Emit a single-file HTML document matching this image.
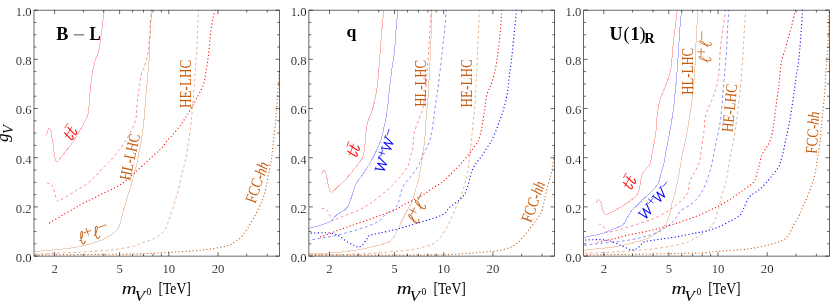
<!DOCTYPE html>
<html><head><meta charset="utf-8"><title>plot</title>
<style>html,body{margin:0;padding:0;background:#fff;}svg{display:block;font-family:"Liberation Serif",serif;}.ax{stroke:#000;fill:none;}.tl{font-size:13.5px;fill:#000;stroke:#fff;stroke-width:0.18px;}</style></head><body>
<svg width="830" height="303" viewBox="0 0 830 303">
<rect width="830" height="303" fill="#fff"/>
<g opacity="0.999">
<defs>
<clipPath id="c0"><rect x="34.0" y="10.2" width="245.6" height="246.0"/></clipPath>
<clipPath id="c1"><rect x="308.9" y="10.2" width="245.7" height="246.0"/></clipPath>
<clipPath id="c2"><rect x="583.7" y="10.2" width="245.8" height="246.0"/></clipPath>
</defs>
<path d="M104.0,9.0C103.7,12.5 102.8,23.1 101.9,29.9C101.0,36.7 99.9,44.9 98.8,50.0C97.7,55.1 96.2,57.1 95.2,60.6C94.2,64.1 93.2,67.9 92.6,71.2C91.9,74.5 91.6,77.7 91.3,80.5C91.0,83.3 90.9,85.0 90.6,88.0C90.3,91.0 89.8,94.6 89.5,98.3C89.2,102.0 89.1,107.0 88.7,110.0C88.3,113.0 88.2,114.1 87.3,116.6C86.3,119.1 84.2,122.6 83.0,124.8C81.8,127.0 81.7,127.3 80.2,129.9C78.7,132.5 75.4,137.9 73.8,140.5C72.2,143.1 71.7,143.9 70.5,145.5C69.3,147.1 68.2,148.0 66.5,150.2C64.8,152.4 61.5,156.8 60.0,158.6C58.5,160.4 58.1,160.8 57.5,161.3C56.9,161.8 56.7,162.2 56.3,161.8C55.9,161.4 55.5,161.0 55.1,159.0C54.7,157.0 54.1,152.3 53.8,150.0C53.5,147.7 53.6,147.0 53.3,145.0C53.0,143.0 52.3,140.1 51.9,137.8C51.5,135.5 51.4,132.8 51.0,131.2C50.6,129.6 50.1,128.4 49.6,128.2C49.1,128.0 48.4,128.7 47.9,129.9C47.4,131.1 46.8,134.3 46.6,135.2" fill="none" stroke="#ff0000" stroke-width="1" stroke-opacity="0.30" shape-rendering="crispEdges" clip-path="url(#c0)"/>
<path d="M151.4,9.0C151.2,12.5 150.5,23.1 150.0,29.9C149.5,36.7 149.0,44.9 148.4,50.0C147.8,55.1 147.1,57.5 146.3,60.6C145.5,63.7 144.5,66.2 143.6,68.6C142.7,71.0 141.6,72.8 141.0,75.2C140.4,77.6 140.2,80.8 139.9,83.1C139.6,85.4 139.5,86.5 139.1,89.0C138.7,91.5 138.1,94.5 137.7,98.3C137.3,102.0 136.7,108.5 136.5,111.5C136.3,114.5 136.6,114.1 136.3,116.0C136.0,117.9 135.6,120.5 134.7,123.0C133.8,125.5 132.5,128.2 131.1,130.9C129.7,133.7 128.2,136.7 126.5,139.5C124.8,142.3 122.6,145.5 121.2,147.5C119.8,149.5 120.1,149.1 118.3,151.3C116.5,153.5 113.3,157.5 110.4,160.6C107.5,163.7 103.4,167.5 101.1,169.9C98.8,172.3 98.6,172.9 96.3,175.2C94.0,177.5 90.3,181.1 87.0,183.6C83.7,186.1 79.9,188.2 76.4,190.4C72.9,192.6 68.7,195.2 65.8,196.9C62.9,198.6 60.6,200.1 59.2,200.8C57.9,201.5 58.2,201.6 57.7,201.2C57.2,200.8 56.7,199.6 56.3,198.5C55.9,197.4 55.7,196.6 55.2,194.9C54.8,193.2 54.3,190.0 53.6,188.3C52.9,186.6 52.2,185.3 51.2,184.5C50.2,183.7 47.9,183.4 47.3,183.2" fill="none" stroke="#ff0000" stroke-width="0.46" stroke-dasharray="2.8 2.6" clip-path="url(#c0)"/>
<path d="M151.8,9.0C151.6,12.5 150.8,23.1 150.4,29.9C150.0,36.7 149.8,44.4 149.6,50.0C149.3,55.6 149.2,58.9 148.9,63.3C148.6,67.7 147.9,72.5 147.6,76.5C147.2,80.5 147.1,83.4 146.8,87.0C146.5,90.6 146.0,94.0 145.6,98.3C145.2,102.6 145.0,108.0 144.6,113.0C144.2,118.0 143.7,123.6 143.1,128.3C142.5,133.1 141.7,137.7 141.1,141.5C140.5,145.3 140.0,147.4 139.3,151.0C138.6,154.6 137.9,159.1 136.9,163.3C135.9,167.5 134.6,171.8 133.5,176.0C132.4,180.2 131.3,184.1 130.1,188.3C128.9,192.6 127.4,197.1 126.1,201.5C124.8,205.9 123.1,211.6 122.3,214.5C121.5,217.4 122.0,217.2 121.5,219.0C121.0,220.8 120.4,223.6 119.5,225.6C118.6,227.6 117.6,229.3 116.2,230.9C114.8,232.5 113.2,233.4 110.9,234.9C108.6,236.4 106.2,238.2 102.3,239.8C98.4,241.4 92.6,243.3 87.8,244.6C83.0,245.9 78.2,246.8 73.4,247.6C68.6,248.4 63.7,249.0 58.9,249.5C54.1,250.0 48.8,250.2 44.5,250.6C40.2,251.0 34.9,251.8 33.0,252.0" fill="none" stroke="#c85c0e" stroke-width="1" stroke-opacity="0.30" shape-rendering="crispEdges" clip-path="url(#c0)"/>
<path d="M198.6,9.0C198.4,12.5 197.9,23.4 197.6,29.9C197.3,36.4 197.3,42.2 197.0,48.0C196.7,53.8 196.2,59.3 195.8,64.9C195.4,70.5 194.9,75.7 194.5,81.5C194.1,87.3 193.7,93.9 193.2,99.9C192.7,105.9 192.1,112.3 191.6,117.5C191.1,122.7 190.7,126.5 190.1,130.9C189.5,135.3 188.7,140.3 188.1,144.2C187.5,148.1 187.4,150.7 186.7,154.3C186.0,157.9 184.9,162.2 184.0,166.0C183.1,169.8 182.2,172.9 181.2,177.0C180.2,181.1 179.4,186.1 178.2,190.6C177.0,195.1 175.5,199.8 174.2,203.9C172.9,208.0 171.4,212.1 170.4,215.0C169.4,217.9 169.3,219.2 168.4,221.6C167.5,224.0 166.6,227.3 165.1,229.6C163.6,231.9 161.7,233.7 159.2,235.5C156.7,237.3 153.0,238.9 149.9,240.2C146.8,241.5 143.7,242.4 140.6,243.5C137.5,244.6 135.8,245.8 131.3,246.8C126.8,247.8 117.5,249.1 113.5,249.7C109.5,250.3 113.0,250.0 107.1,250.4C101.2,250.8 87.8,251.8 78.2,252.3C68.6,252.8 56.8,253.2 49.3,253.5C41.8,253.8 35.7,254.1 33.0,254.2" fill="none" stroke="#c85c0e" stroke-width="0.46" stroke-dasharray="2.8 2.6" clip-path="url(#c0)"/>
<path d="M215.5,10.0C215.1,11.2 213.7,14.7 213.1,17.3C212.5,19.9 212.1,22.9 211.7,25.9C211.2,28.9 210.8,32.0 210.4,35.2C210.0,38.4 209.8,41.6 209.5,45.0C209.2,48.4 208.8,52.3 208.4,55.6C208.0,58.9 207.6,61.8 207.1,64.9C206.6,68.0 206.0,71.4 205.5,74.2C205.0,77.0 204.9,79.4 204.2,82.0C203.5,84.6 202.4,87.1 201.1,89.9C199.8,92.7 198.0,95.7 196.5,98.6C195.0,101.5 193.5,104.5 191.9,107.2C190.3,110.0 188.5,113.0 187.2,115.1C185.9,117.1 185.4,117.9 184.3,119.5C183.2,121.1 182.5,122.7 180.8,124.9C179.1,127.1 176.4,130.4 174.2,132.9C172.0,135.4 169.8,137.6 167.6,140.2C165.4,142.8 163.4,146.1 161.0,148.7C158.6,151.3 156.1,153.1 153.0,156.0C149.9,158.9 145.6,162.8 142.2,165.9C138.8,169.0 136.5,171.3 132.8,174.5C129.1,177.7 124.4,182.1 120.1,184.9C115.8,187.8 111.3,189.4 106.9,191.6C102.5,193.8 98.0,196.0 93.6,198.2C89.2,200.4 85.2,202.2 80.4,204.8C75.6,207.5 70.0,210.8 64.5,214.1C59.0,217.3 50.1,222.6 47.2,224.3" fill="none" stroke="#ff0000" stroke-width="1.1" stroke-dasharray="1.1 2.4" clip-path="url(#c0)"/>
<path d="M279.6,71.0C279.4,72.8 279.0,78.0 278.6,82.0C278.2,86.0 277.9,90.3 277.5,95.0C277.1,99.7 276.8,105.5 276.5,110.0C276.2,114.5 275.9,117.3 275.5,122.0C275.1,126.7 274.3,133.0 273.8,138.0C273.3,143.0 272.7,148.4 272.3,152.0C271.9,155.6 272.1,155.9 271.5,159.3C270.9,162.7 269.7,168.1 268.8,172.5C267.9,176.9 267.2,181.8 266.3,186.0C265.4,190.2 264.4,194.4 263.2,197.9C262.0,201.4 260.7,204.1 259.3,207.2C257.9,210.3 256.1,213.6 254.6,216.4C253.0,219.2 251.2,222.2 250.0,224.3C248.8,226.4 248.3,227.5 247.4,228.9C246.5,230.3 245.8,231.1 244.6,232.7C243.4,234.3 241.7,237.0 240.0,238.5C238.3,240.0 236.7,240.6 234.7,241.8C232.7,243.0 232.3,244.3 228.1,245.5C223.9,246.7 215.9,248.3 209.5,249.2C203.1,250.1 196.4,250.6 189.6,251.1C182.8,251.6 175.0,252.0 168.4,252.4C161.8,252.8 156.3,253.1 149.9,253.4C143.5,253.7 149.3,253.8 130.0,254.1C110.7,254.3 50.0,254.8 34.0,254.9" fill="none" stroke="#c85c0e" stroke-width="1.1" stroke-dasharray="1.1 2.4" clip-path="url(#c0)"/>
<path d="M383.8,9.0C383.5,12.5 382.5,23.1 381.9,29.9C381.3,36.7 380.8,43.3 380.3,50.0C379.8,56.7 379.4,63.3 378.8,69.9C378.2,76.5 377.7,83.7 376.8,89.8C375.9,95.9 374.4,102.3 373.3,106.5C372.2,110.7 371.5,112.2 370.5,115.0C369.5,117.8 368.1,119.7 367.3,123.3C366.5,126.9 365.9,132.4 365.5,136.5C365.1,140.6 365.1,144.8 364.7,148.0C364.3,151.2 363.7,153.9 363.1,155.9C362.5,157.9 362.4,157.9 361.1,159.9C359.8,161.9 357.7,164.7 355.2,167.8C352.7,170.9 349.4,175.2 346.3,178.6C343.2,182.0 338.9,185.8 336.4,188.1C333.9,190.4 332.6,191.9 331.4,192.2C330.2,192.5 330.1,191.9 329.4,189.8C328.7,187.8 327.9,182.8 327.3,179.9C326.7,177.0 326.2,174.0 325.6,172.4C325.1,170.8 324.7,170.0 324.0,170.3C323.3,170.6 321.9,173.5 321.5,174.1" fill="none" stroke="#ff0000" stroke-width="1" stroke-opacity="0.30" shape-rendering="crispEdges" clip-path="url(#c1)"/>
<path d="M398.0,9.0C397.7,12.5 396.6,23.1 396.0,29.9C395.4,36.7 395.3,43.3 394.6,50.0C393.9,56.7 392.7,63.3 391.8,69.9C390.9,76.5 389.9,84.8 389.3,89.8C388.8,94.8 388.9,96.5 388.5,99.9C388.1,103.3 387.7,106.5 387.2,110.0C386.7,113.5 386.3,116.6 385.5,120.6C384.7,124.6 383.2,130.7 382.5,133.9C381.8,137.1 382.0,137.2 381.0,140.0C380.0,142.8 378.0,147.1 376.4,150.6C374.8,154.1 373.1,157.7 371.1,161.2C369.1,164.7 366.2,169.2 364.5,171.8C362.8,174.4 362.5,174.7 361.1,176.6C359.7,178.5 357.4,181.0 356.2,183.2C355.0,185.4 354.5,187.3 353.7,189.8C352.9,192.3 352.2,195.2 351.2,198.0C350.2,200.8 349.0,204.3 347.9,206.3C346.8,208.3 346.5,208.6 344.6,210.0C342.7,211.4 338.6,213.2 336.4,215.0C334.2,216.8 333.9,219.0 331.4,220.7C328.9,222.3 325.4,223.6 321.5,224.9C317.6,226.2 310.2,227.9 308.0,228.5" fill="none" stroke="#0000ff" stroke-width="1" stroke-opacity="0.30" shape-rendering="crispEdges" clip-path="url(#c1)"/>
<path d="M431.4,9.0C431.2,12.5 430.4,23.1 430.0,29.9C429.6,36.7 429.1,43.3 428.7,50.0C428.2,56.7 427.8,63.3 427.3,69.9C426.8,76.5 426.2,84.5 425.6,89.8C425.1,95.1 424.6,98.6 424.0,102.0C423.4,105.4 423.2,106.9 422.3,110.0C421.4,113.1 419.8,116.8 418.5,120.6C417.2,124.3 415.1,129.3 414.3,132.5C413.5,135.7 413.8,137.2 413.5,140.0C413.2,142.8 413.2,146.1 412.6,149.0C412.1,151.9 411.0,154.4 410.2,157.2C409.4,160.0 409.5,162.9 408.0,166.0C406.5,169.1 402.9,173.2 401.2,175.5C399.5,177.8 399.9,177.4 397.6,179.8C395.3,182.2 391.9,185.9 387.5,189.8C383.1,193.7 375.7,199.7 371.0,203.0C366.3,206.3 363.6,207.6 359.5,209.6C355.4,211.6 350.2,213.4 346.3,215.0C342.4,216.6 338.8,218.2 336.4,219.1C334.0,220.0 333.3,221.2 332.2,220.5C331.1,219.8 330.8,216.8 329.8,215.0C328.9,213.2 327.9,210.7 326.5,209.6C325.1,208.5 322.3,208.4 321.5,208.2" fill="none" stroke="#ff0000" stroke-width="0.46" stroke-dasharray="2.8 2.6" clip-path="url(#c1)"/>
<path d="M431.9,9.0C431.8,12.5 431.5,23.1 431.3,29.9C431.1,36.7 430.8,43.3 430.5,50.0C430.2,56.7 429.9,64.1 429.6,69.9C429.3,75.7 429.0,80.0 428.7,85.0C428.4,90.0 428.2,95.7 427.9,99.9C427.6,104.1 427.3,105.8 426.9,110.0C426.5,114.2 425.9,120.0 425.5,125.0C425.1,130.0 425.2,135.3 424.8,140.0C424.4,144.7 423.4,149.0 422.8,153.3C422.2,157.6 421.7,161.8 421.0,166.0C420.3,170.2 419.7,174.5 418.8,178.5C417.9,182.5 416.7,186.0 415.6,189.8C414.5,193.6 413.7,197.9 412.3,201.3C410.9,204.7 408.7,207.4 407.3,210.0C405.9,212.6 405.4,213.8 404.0,216.6C402.6,219.3 400.6,223.5 399.1,226.5C397.6,229.5 396.4,232.5 395.0,234.8C393.6,237.1 392.6,239.0 390.8,240.5C389.0,242.0 387.5,242.7 384.2,243.8C380.9,244.9 375.9,246.0 371.0,247.1C366.1,248.2 361.4,249.4 354.5,250.4C347.6,251.4 337.6,252.4 329.8,252.9C322.1,253.4 311.6,253.6 308.0,253.7" fill="none" stroke="#c85c0e" stroke-width="1" stroke-opacity="0.30" shape-rendering="crispEdges" clip-path="url(#c1)"/>
<path d="M446.3,9.0C446.0,12.5 445.3,23.1 444.6,29.9C443.9,36.7 443.0,43.3 442.3,50.0C441.6,56.7 440.9,64.1 440.2,69.9C439.5,75.7 438.9,80.7 438.4,85.0C437.8,89.3 437.5,91.9 436.9,95.9C436.3,99.9 435.4,105.2 434.9,109.2C434.3,113.2 434.2,116.1 433.6,120.0C433.1,123.9 432.3,128.9 431.6,132.5C430.9,136.1 430.5,138.6 429.5,141.5C428.5,144.4 426.8,147.2 425.5,150.0C424.2,152.8 422.8,155.8 421.5,158.6C420.2,161.4 419.3,164.0 417.5,167.0C415.7,170.0 412.9,173.6 410.6,176.6C408.4,179.6 405.6,182.1 404.0,184.8C402.4,187.6 401.6,190.1 400.7,193.1C399.8,196.1 399.4,200.2 398.3,203.0C397.2,205.8 395.9,207.9 394.1,209.6C392.3,211.3 390.0,211.2 387.5,213.0C385.0,214.8 382.1,218.7 379.3,220.7C376.6,222.7 375.1,223.2 371.0,224.9C366.9,226.6 360.0,228.9 354.5,230.6C349.0,232.2 343.5,233.6 338.0,234.8C332.5,236.1 326.5,237.2 321.5,238.1C316.5,239.0 310.2,240.1 308.0,240.5" fill="none" stroke="#0000ff" stroke-width="0.46" stroke-dasharray="2.8 2.6" clip-path="url(#c1)"/>
<path d="M479.5,9.0C479.3,12.5 478.8,23.1 478.5,29.9C478.2,36.7 478.0,43.3 477.7,50.0C477.4,56.7 477.1,64.1 476.8,69.9C476.5,75.7 476.3,80.0 476.0,85.0C475.7,90.0 475.5,95.2 475.2,99.9C474.9,104.6 474.6,109.1 474.3,113.0C474.0,116.9 473.5,119.4 473.1,123.3C472.7,127.2 472.3,132.1 471.8,136.5C471.3,140.9 470.9,145.1 470.3,150.0C469.8,154.9 469.1,161.3 468.5,166.0C467.9,170.7 467.5,173.9 466.4,178.4C465.3,182.9 463.7,188.3 462.0,193.0C460.3,197.7 457.6,203.5 456.4,206.3C455.2,209.1 456.2,206.9 454.8,210.0C453.4,213.1 450.7,220.2 448.2,224.9C445.7,229.6 442.6,234.8 439.9,238.1C437.1,241.4 433.5,243.5 431.7,244.7C429.9,245.9 432.0,244.7 428.8,245.5C425.6,246.3 419.2,248.5 412.3,249.6C405.4,250.7 397.1,251.3 387.5,252.1C377.9,252.9 367.8,253.7 354.5,254.2C341.2,254.7 315.8,254.9 308.0,255.0" fill="none" stroke="#c85c0e" stroke-width="0.46" stroke-dasharray="2.8 2.6" clip-path="url(#c1)"/>
<path d="M501.8,10.0C501.6,13.3 501.0,23.2 500.4,29.9C499.8,36.6 499.0,44.4 498.3,50.0C497.6,55.6 497.0,59.3 496.4,63.3C495.8,67.3 495.2,70.6 494.4,73.9C493.6,77.2 492.5,80.8 491.7,83.1C490.9,85.4 490.6,86.2 489.8,88.0C489.0,89.8 487.8,91.5 487.1,93.9C486.4,96.3 485.9,99.7 485.5,102.5C485.1,105.3 485.0,108.2 484.6,111.0C484.2,113.8 483.6,116.1 483.1,119.3C482.6,122.5 482.1,126.7 481.4,129.9C480.7,133.1 479.8,136.4 479.1,138.5C478.4,140.6 478.1,141.0 477.2,142.5C476.3,144.0 474.9,145.5 473.7,147.3C472.4,149.1 471.4,151.1 469.7,153.3C468.0,155.5 465.8,158.1 463.7,160.5C461.6,162.9 459.4,165.4 457.1,167.8C454.8,170.2 451.8,173.2 449.8,175.1C447.8,177.0 446.5,178.3 445.2,179.5C443.9,180.7 444.2,180.7 442.0,182.3C439.8,183.9 435.3,186.6 431.7,188.9C428.1,191.2 425.2,193.8 420.6,196.4C416.0,199.0 408.3,202.3 404.0,204.6C399.7,206.9 399.1,208.1 395.0,210.0C390.9,211.9 384.7,213.9 379.3,215.8C373.9,217.7 368.3,219.7 362.8,221.6C357.3,223.5 351.3,225.5 346.3,227.3C341.3,229.1 337.4,230.7 333.0,232.3C328.6,234.0 322.1,236.4 319.9,237.2" fill="none" stroke="#ff0000" stroke-width="1.1" stroke-dasharray="1.1 2.4" clip-path="url(#c1)"/>
<path d="M516.5,10.0C516.2,13.3 515.2,23.2 514.5,29.9C513.8,36.6 513.1,44.4 512.5,50.0C511.9,55.6 511.5,59.3 511.0,63.3C510.5,67.3 510.0,70.4 509.6,73.9C509.2,77.4 508.7,81.8 508.4,84.5C508.1,87.2 508.0,87.7 507.7,90.0C507.4,92.3 506.9,95.8 506.3,98.6C505.7,101.3 505.0,104.1 504.3,106.5C503.6,108.9 503.2,110.8 502.4,113.1C501.6,115.4 500.6,117.8 499.6,120.6C498.6,123.4 497.5,126.8 496.3,129.9C495.1,133.0 493.4,137.1 492.4,139.2C491.4,141.3 491.6,140.7 490.5,142.5C489.4,144.3 487.3,147.3 485.6,149.9C483.9,152.5 482.0,155.6 480.3,157.9C478.6,160.2 477.0,161.9 475.7,163.9C474.4,165.9 473.3,167.8 472.4,169.8C471.5,171.8 471.0,173.8 470.4,175.8C469.8,177.8 469.6,180.0 469.0,182.0C468.4,184.0 467.7,186.0 467.0,188.0C466.3,190.0 465.9,192.0 464.7,193.9C463.5,195.8 462.2,197.5 459.7,199.7C457.2,201.9 452.8,204.5 449.8,207.1C446.9,209.7 447.4,212.3 442.0,215.0C436.6,217.7 424.6,220.9 417.2,223.2C409.8,225.5 403.7,227.3 397.4,229.0C391.1,230.7 384.0,232.0 379.3,233.1C374.6,234.2 371.5,234.6 369.4,235.6C367.3,236.6 368.0,237.4 366.9,238.9C365.8,240.4 364.2,243.3 362.8,244.7C361.4,246.1 360.0,247.0 358.6,247.1C357.2,247.2 356.3,246.3 354.5,245.5C352.7,244.7 350.4,243.7 347.9,242.2C345.4,240.7 341.9,237.8 339.7,236.4C337.5,235.0 336.9,234.5 334.7,233.9C332.5,233.3 330.8,232.9 326.5,232.8C322.2,232.7 312.0,233.1 309.1,233.1" fill="none" stroke="#0000ff" stroke-width="1.1" stroke-dasharray="1.1 2.4" clip-path="url(#c1)"/>
<path d="M554.6,148.0C554.4,150.0 553.9,156.3 553.5,160.0C553.1,163.7 552.5,167.3 552.0,170.0C551.5,172.7 551.3,173.0 550.5,176.0C549.7,179.0 548.2,184.2 547.2,188.1C546.2,192.0 545.3,196.0 544.5,199.7C543.7,203.3 543.0,207.4 542.2,210.0C541.4,212.6 541.2,212.8 539.8,215.0C538.4,217.2 536.1,220.4 534.0,223.2C531.9,225.9 529.6,228.8 527.4,231.5C525.2,234.2 523.0,237.4 520.8,239.7C518.6,242.0 516.7,244.0 514.2,245.5C511.7,247.0 509.5,247.8 505.9,248.8C502.3,249.8 499.8,250.5 492.7,251.3C485.6,252.1 473.4,253.1 463.0,253.7C452.6,254.3 455.6,254.7 430.0,254.9C404.4,255.1 329.2,254.9 309.1,254.9" fill="none" stroke="#c85c0e" stroke-width="1.1" stroke-dasharray="1.1 2.4" clip-path="url(#c1)"/>
<path d="M677.4,9.0C677.0,12.5 675.7,23.1 674.9,29.9C674.1,36.7 673.2,43.8 672.6,50.0C672.0,56.2 671.9,62.6 671.2,67.2C670.5,71.8 669.8,74.0 668.6,77.8C667.4,81.6 665.4,86.0 663.9,89.8C662.4,93.6 661.0,96.6 659.9,100.6C658.8,104.6 657.9,109.5 657.3,113.9C656.7,118.3 657.0,122.5 656.5,127.0C656.0,131.5 655.4,136.4 654.6,140.9C653.8,145.4 652.7,150.2 651.9,154.2C651.1,158.2 651.1,161.9 649.7,164.8C648.3,167.7 645.0,169.4 643.6,171.6C642.2,173.8 641.8,175.4 641.1,178.2C640.4,180.9 640.1,185.3 639.4,188.1C638.7,190.8 638.6,192.5 637.0,194.7C635.4,196.9 632.7,199.0 629.5,201.3C626.3,203.6 621.4,206.6 618.0,208.7C614.6,210.8 611.0,212.7 608.9,213.7C606.8,214.7 606.6,214.9 605.6,214.5C604.6,214.1 603.8,212.8 603.1,211.2C602.4,209.5 602.0,206.4 601.5,204.6C601.0,202.8 600.3,201.3 599.8,200.5C599.2,199.7 598.8,199.7 598.2,200.0C597.6,200.3 596.5,202.2 596.2,202.6" fill="none" stroke="#ff0000" stroke-width="1" stroke-opacity="0.30" shape-rendering="crispEdges" clip-path="url(#c2)"/>
<path d="M681.7,9.0C681.4,12.5 680.3,23.1 679.8,29.9C679.3,36.7 678.9,43.3 678.5,50.0C678.1,56.7 677.7,63.3 677.2,69.9C676.7,76.5 676.0,83.8 675.4,89.8C674.8,95.8 674.5,101.0 673.9,105.9C673.3,110.8 672.4,115.7 671.9,119.2C671.4,122.7 671.3,123.2 670.6,127.0C669.9,130.8 668.7,137.4 667.8,142.2C666.9,146.9 665.9,151.7 665.2,155.5C664.5,159.3 664.4,161.8 663.7,164.8C663.0,167.8 661.8,170.2 660.9,173.3C660.0,176.4 660.0,180.0 658.4,183.2C656.8,186.3 653.3,189.7 651.0,192.2C648.7,194.7 646.9,195.7 644.4,198.0C641.9,200.3 638.3,204.1 636.1,206.3C633.9,208.5 632.7,209.2 631.2,211.2C629.7,213.2 628.4,216.0 627.0,218.3C625.6,220.6 625.2,223.1 622.9,224.9C620.6,226.7 615.8,227.8 613.0,229.0C610.2,230.2 609.1,231.3 606.4,232.3C603.6,233.3 600.4,233.9 596.5,234.8C592.6,235.7 585.2,237.2 583.0,237.7" fill="none" stroke="#0000ff" stroke-width="1" stroke-opacity="0.30" shape-rendering="crispEdges" clip-path="url(#c2)"/>
<path d="M698.1,9.0C697.9,12.5 697.1,23.1 696.7,29.9C696.3,36.7 696.0,43.3 695.7,50.0C695.4,56.7 695.2,63.3 694.8,69.9C694.4,76.5 693.7,83.8 693.1,89.8C692.5,95.8 692.1,101.0 691.4,105.9C690.7,110.8 689.7,115.7 689.1,119.2C688.5,122.7 688.7,123.2 688.0,127.0C687.3,130.8 686.1,137.4 685.1,142.2C684.1,146.9 682.9,151.7 682.1,155.5C681.3,159.3 681.1,161.0 680.5,164.8C679.9,168.6 679.1,173.5 678.2,178.2C677.3,182.9 676.0,188.7 674.9,193.1C673.8,197.5 672.3,201.8 671.6,204.6C670.9,207.4 671.3,207.7 670.8,210.0C670.2,212.3 669.3,215.7 668.3,218.3C667.3,220.9 666.8,223.4 665.0,225.7C663.2,228.0 660.8,230.1 657.6,232.3C654.4,234.5 650.7,237.0 646.0,238.9C641.3,240.8 635.0,242.4 629.5,243.8C624.0,245.2 618.5,246.3 613.0,247.1C607.5,247.9 601.5,248.2 596.5,248.8C591.5,249.4 585.2,250.1 583.0,250.4" fill="none" stroke="#c85c0e" stroke-width="1" stroke-opacity="0.30" shape-rendering="crispEdges" clip-path="url(#c2)"/>
<path d="M725.5,9.0C725.1,12.5 723.8,23.1 722.9,29.9C722.0,36.7 720.9,43.3 720.3,50.0C719.7,56.7 719.7,64.6 719.2,69.9C718.8,75.2 718.2,78.5 717.6,81.8C717.0,85.1 716.6,86.7 715.6,89.8C714.6,92.9 713.0,97.0 711.6,100.6C710.2,104.2 708.1,108.1 707.0,111.2C705.9,114.3 705.2,116.6 704.8,119.2C704.4,121.8 704.7,123.8 704.4,127.0C704.1,130.2 703.6,134.2 703.0,138.3C702.4,142.4 701.7,147.3 701.0,151.5C700.3,155.7 700.2,159.8 699.0,163.4C697.8,167.0 695.4,170.3 693.9,173.3C692.4,176.3 690.8,178.5 689.8,181.5C688.8,184.5 689.1,188.7 688.1,191.4C687.1,194.2 686.1,195.7 684.0,198.0C681.9,200.3 678.3,203.3 675.7,205.4C673.1,207.5 671.9,208.7 668.3,210.8C664.7,213.0 659.4,216.1 654.3,218.3C649.2,220.5 643.3,222.2 637.8,224.0C632.3,225.8 626.4,227.6 621.3,229.0C616.2,230.4 610.0,232.4 607.2,232.3C604.5,232.2 605.8,229.4 604.8,228.2C603.8,227.0 602.5,225.6 601.5,224.9C600.5,224.2 599.4,224.2 599.0,224.0" fill="none" stroke="#ff0000" stroke-width="0.46" stroke-dasharray="2.8 2.6" clip-path="url(#c2)"/>
<path d="M729.1,9.0C728.8,12.5 727.9,23.1 727.5,29.9C727.1,36.7 727.0,43.3 726.6,50.0C726.2,56.7 725.5,63.3 724.9,69.9C724.3,76.5 723.7,84.2 723.2,89.8C722.8,95.4 722.6,98.8 722.2,103.3C721.8,107.8 721.4,112.5 720.9,116.5C720.4,120.5 720.0,123.4 719.3,127.0C718.6,130.6 717.8,134.2 716.9,138.3C716.0,142.4 715.1,147.1 714.2,151.5C713.4,155.9 712.7,160.6 711.8,164.5C710.9,168.4 710.1,171.0 708.8,174.9C707.5,178.8 705.4,184.5 703.8,188.1C702.1,191.7 701.1,193.7 698.9,196.4C696.7,199.2 693.6,202.2 690.6,204.6C687.6,207.0 683.2,208.5 680.7,210.8C678.2,213.1 677.6,216.0 675.7,218.3C673.8,220.7 671.9,222.7 669.1,224.9C666.4,227.1 663.1,229.6 659.2,231.5C655.4,233.4 651.0,235.0 646.0,236.4C641.0,237.8 635.0,239.0 629.5,240.0C624.0,241.0 618.5,241.6 613.0,242.2C607.5,242.8 601.5,243.2 596.5,243.8C591.5,244.4 585.2,245.2 583.0,245.5" fill="none" stroke="#0000ff" stroke-width="0.46" stroke-dasharray="2.8 2.6" clip-path="url(#c2)"/>
<path d="M745.8,9.0C745.5,12.5 744.7,23.1 744.3,29.9C743.9,36.7 743.7,43.3 743.3,50.0C742.9,56.7 742.3,63.3 741.8,69.9C741.3,76.5 740.9,83.6 740.3,89.8C739.7,96.0 738.8,102.1 738.2,107.0C737.6,111.9 737.2,115.9 736.8,119.2C736.4,122.5 736.1,123.5 735.6,127.0C735.1,130.5 734.5,135.7 733.7,140.0C732.9,144.3 731.8,149.1 731.0,153.0C730.2,156.9 729.9,158.7 729.1,163.4C728.3,168.2 727.2,176.3 726.0,181.5C724.8,186.7 723.0,190.6 721.9,194.7C720.8,198.8 720.1,203.5 719.4,206.3C718.6,209.1 718.1,209.4 717.4,211.7C716.7,214.0 716.6,217.2 715.3,219.9C714.0,222.7 711.8,225.7 709.5,228.2C707.2,230.7 704.0,232.9 701.3,234.8C698.5,236.7 695.3,238.2 693.0,239.4C690.7,240.6 691.0,241.0 687.3,242.2C683.6,243.3 677.7,245.1 670.8,246.3C663.9,247.5 655.6,248.6 646.0,249.6C636.4,250.6 623.5,251.5 613.0,252.1C602.5,252.7 588.0,253.0 583.0,253.2" fill="none" stroke="#c85c0e" stroke-width="0.46" stroke-dasharray="2.8 2.6" clip-path="url(#c2)"/>
<path d="M795.5,10.0C794.8,12.9 792.5,22.4 791.3,27.2C790.0,32.0 789.0,35.4 788.0,39.0C787.0,42.6 786.0,46.7 785.4,48.9C784.8,51.1 785.0,50.4 784.5,52.0C784.0,53.6 782.7,56.3 782.1,58.6C781.5,60.9 781.2,63.2 780.8,65.8C780.4,68.4 780.2,71.8 779.9,74.4C779.6,77.1 779.4,79.3 779.1,81.7C778.9,84.1 778.8,85.8 778.4,89.0C778.0,92.2 777.3,96.9 776.8,100.6C776.3,104.3 775.9,107.8 775.5,111.1C775.1,114.4 774.6,117.6 774.2,120.3C773.8,123.0 773.6,125.2 773.2,127.5C772.8,129.8 772.6,131.8 772.0,134.2C771.4,136.6 770.7,139.8 769.6,142.2C768.5,144.6 766.9,146.5 765.6,148.7C764.3,150.9 762.7,152.9 761.7,155.3C760.7,157.7 760.2,161.2 759.7,163.3C759.2,165.4 758.9,166.6 758.5,168.0C758.1,169.4 758.0,169.6 757.4,171.6C756.8,173.6 756.0,177.7 754.9,179.9C753.8,182.1 752.9,183.0 750.8,184.8C748.7,186.6 745.2,188.7 742.5,190.6C739.8,192.5 737.0,194.5 734.3,196.4C731.5,198.3 728.8,200.4 726.0,202.1C723.2,203.8 720.5,204.9 717.8,206.3C715.0,207.7 713.2,208.7 709.5,210.4C705.8,212.1 700.6,214.6 695.5,216.6C690.4,218.6 684.5,220.6 679.0,222.4C673.5,224.2 668.0,225.8 662.5,227.3C657.0,228.8 651.5,230.2 646.0,231.5C640.5,232.8 635.0,233.6 629.5,234.8C624.0,236.0 617.7,237.8 613.0,238.9C608.3,240.0 604.5,240.7 601.5,241.4C598.5,242.1 596.0,242.7 594.9,243.0" fill="none" stroke="#ff0000" stroke-width="1.1" stroke-dasharray="1.1 2.4" clip-path="url(#c2)"/>
<path d="M802.6,10.0C802.4,13.3 801.7,23.2 801.2,29.8C800.7,36.4 800.3,43.9 799.8,49.5C799.3,55.1 798.8,59.2 798.3,63.2C797.8,67.2 797.1,70.4 796.6,73.7C796.1,77.0 795.7,80.3 795.3,83.0C794.9,85.7 794.8,87.3 794.4,90.0C794.0,92.7 793.5,96.1 793.1,99.2C792.7,102.3 792.2,105.4 791.7,108.5C791.2,111.6 790.9,114.9 790.4,117.7C789.9,120.5 789.3,122.6 788.7,125.6C788.1,128.6 787.4,132.4 786.7,135.6C786.0,138.8 785.4,141.7 784.7,144.8C784.1,147.9 783.4,151.4 782.8,154.0C782.1,156.6 781.5,158.5 780.8,160.6C780.1,162.7 779.9,164.6 778.8,166.7C777.6,168.8 775.8,170.8 773.9,173.3C772.0,175.8 769.8,178.8 767.3,181.5C764.8,184.2 761.8,187.5 759.0,189.8C756.2,192.1 752.7,193.8 750.8,195.5C748.9,197.2 748.6,197.8 747.5,199.7C746.4,201.6 745.0,205.2 744.2,207.1C743.4,208.9 743.3,209.4 742.5,210.8C741.7,212.2 741.1,214.2 739.2,215.8C737.3,217.5 734.6,218.8 731.0,220.7C727.4,222.6 722.2,225.5 717.8,227.3C713.4,229.1 708.3,230.5 704.6,231.5C700.9,232.5 699.8,232.3 695.5,233.1C691.2,233.9 684.5,235.4 679.0,236.4C673.5,237.4 668.0,238.1 662.5,238.9C657.0,239.7 649.4,240.6 646.0,241.4C642.6,242.2 643.3,242.7 641.9,243.8C640.5,244.9 639.3,247.0 637.8,248.0C636.3,249.0 634.4,249.8 632.8,249.9C631.1,250.0 630.1,249.7 627.9,248.8C625.7,247.9 622.4,245.9 619.6,244.7C616.9,243.5 614.4,242.2 611.4,241.4C608.4,240.6 606.0,239.9 601.5,239.7C597.0,239.5 587.0,239.9 584.1,240.0" fill="none" stroke="#0000ff" stroke-width="1.1" stroke-dasharray="1.1 2.4" clip-path="url(#c2)"/>
<path d="M829.0,12.0C828.9,15.0 828.7,23.7 828.5,30.0C828.3,36.3 828.0,43.4 827.6,50.0C827.2,56.6 826.4,63.3 826.0,69.8C825.6,76.3 825.4,83.3 825.0,88.9C824.6,94.5 824.2,98.6 823.7,103.2C823.2,107.8 822.7,112.4 822.3,116.4C821.9,120.5 821.6,123.9 821.3,127.5C821.0,131.1 820.8,134.2 820.4,138.2C820.0,142.2 819.3,147.2 818.7,151.4C818.1,155.6 817.5,159.1 816.8,163.3C816.1,167.5 815.3,172.7 814.3,176.6C813.3,180.5 812.2,182.9 811.0,186.5C809.8,190.1 808.3,194.7 806.9,198.0C805.5,201.3 803.8,204.2 802.8,206.3C801.8,208.4 801.8,209.1 801.1,210.8C800.4,212.5 799.8,214.2 798.6,216.6C797.4,218.9 795.4,221.9 793.7,224.9C792.1,227.9 790.4,232.3 788.7,234.8C787.1,237.3 786.0,238.3 783.8,239.7C781.6,241.1 779.6,241.8 775.5,243.0C771.4,244.2 764.5,246.0 759.0,247.1C753.5,248.2 749.4,248.9 742.5,249.6C735.6,250.3 726.0,250.7 717.8,251.3C709.5,251.9 715.3,252.6 693.0,253.2C670.7,253.8 602.2,254.6 584.1,254.9" fill="none" stroke="#c85c0e" stroke-width="1.1" stroke-dasharray="1.1 2.4" clip-path="url(#c2)"/>
<rect class="ax" x="34.00" y="10.15" width="245.60" height="245.95" stroke-width="0.6"/>
<path class="ax" d="M34.00,256.10h4.0M279.60,256.10h-4.0M34.00,243.80h2.4M279.60,243.80h-2.4M34.00,231.51h2.4M279.60,231.51h-2.4M34.00,219.21h2.4M279.60,219.21h-2.4M34.00,206.91h4.0M279.60,206.91h-4.0M34.00,194.61h2.4M279.60,194.61h-2.4M34.00,182.31h2.4M279.60,182.31h-2.4M34.00,170.02h2.4M279.60,170.02h-2.4M34.00,157.72h4.0M279.60,157.72h-4.0M34.00,145.42h2.4M279.60,145.42h-2.4M34.00,133.12h2.4M279.60,133.12h-2.4M34.00,120.83h2.4M279.60,120.83h-2.4M34.00,108.53h4.0M279.60,108.53h-4.0M34.00,96.23h2.4M279.60,96.23h-2.4M34.00,83.94h2.4M279.60,83.94h-2.4M34.00,71.64h2.4M279.60,71.64h-2.4M34.00,59.34h4.0M279.60,59.34h-4.0M34.00,47.04h2.4M279.60,47.04h-2.4M34.00,34.75h2.4M279.60,34.75h-2.4M34.00,22.45h2.4M279.60,22.45h-2.4M34.00,10.15h4.0M279.60,10.15h-4.0M54.60,256.10v-4.0M54.60,10.15v4.0M83.37,256.10v-2.4M83.37,10.15v2.4M103.79,256.10v-2.4M103.79,10.15v2.4M119.62,256.10v-4.0M119.62,10.15v4.0M132.56,256.10v-2.4M132.56,10.15v2.4M143.50,256.10v-2.4M143.50,10.15v2.4M152.98,256.10v-2.4M152.98,10.15v2.4M161.33,256.10v-2.4M161.33,10.15v2.4M168.81,256.10v-4.0M168.81,10.15v4.0M218.00,256.10v-4.0M218.00,10.15v4.0M246.77,256.10v-2.4M246.77,10.15v2.4M267.19,256.10v-2.4M267.19,10.15v2.4" stroke-width="0.6"/>
<g transform="translate(31.7,262.0) scale(0.94,1)"><text class="tl" x="0" y="0" text-anchor="end">0.0</text></g>
<g transform="translate(31.7,212.8) scale(0.94,1)"><text class="tl" x="0" y="0" text-anchor="end">0.2</text></g>
<g transform="translate(31.7,163.6) scale(0.94,1)"><text class="tl" x="0" y="0" text-anchor="end">0.4</text></g>
<g transform="translate(31.7,114.4) scale(0.94,1)"><text class="tl" x="0" y="0" text-anchor="end">0.6</text></g>
<g transform="translate(31.7,65.2) scale(0.94,1)"><text class="tl" x="0" y="0" text-anchor="end">0.8</text></g>
<g transform="translate(31.7,16.1) scale(0.94,1)"><text class="tl" x="0" y="0" text-anchor="end">1.0</text></g>
<g transform="translate(54.6,273.0) scale(0.94,1)"><text class="tl" x="0" y="0" text-anchor="middle">2</text></g>
<g transform="translate(119.6,273.0) scale(0.94,1)"><text class="tl" x="0" y="0" text-anchor="middle">5</text></g>
<g transform="translate(168.8,273.0) scale(0.94,1)"><text class="tl" x="0" y="0" text-anchor="middle">10</text></g>
<g transform="translate(218.0,273.0) scale(0.94,1)"><text class="tl" x="0" y="0" text-anchor="middle">20</text></g>
<g transform="translate(121.8,294.4) scale(1.22,1)"><text x="0" y="0" font-size="16.8px" font-style="italic">m</text></g>
<g transform="translate(134.4,300.6) scale(1.13,1)"><text x="0" y="0" font-size="15.2px" font-style="italic">V</text></g>
<text x="146.6" y="295.4" font-size="9.6px">0</text>
<g transform="translate(158.4,294.4) scale(0.825,1)"><text x="0" y="0" font-size="16.6px">[TeV]</text></g>
<rect class="ax" x="308.90" y="10.15" width="245.70" height="245.95" stroke-width="0.6"/>
<path class="ax" d="M308.90,256.10h4.0M554.60,256.10h-4.0M308.90,243.80h2.4M554.60,243.80h-2.4M308.90,231.51h2.4M554.60,231.51h-2.4M308.90,219.21h2.4M554.60,219.21h-2.4M308.90,206.91h4.0M554.60,206.91h-4.0M308.90,194.61h2.4M554.60,194.61h-2.4M308.90,182.31h2.4M554.60,182.31h-2.4M308.90,170.02h2.4M554.60,170.02h-2.4M308.90,157.72h4.0M554.60,157.72h-4.0M308.90,145.42h2.4M554.60,145.42h-2.4M308.90,133.12h2.4M554.60,133.12h-2.4M308.90,120.83h2.4M554.60,120.83h-2.4M308.90,108.53h4.0M554.60,108.53h-4.0M308.90,96.23h2.4M554.60,96.23h-2.4M308.90,83.94h2.4M554.60,83.94h-2.4M308.90,71.64h2.4M554.60,71.64h-2.4M308.90,59.34h4.0M554.60,59.34h-4.0M308.90,47.04h2.4M554.60,47.04h-2.4M308.90,34.75h2.4M554.60,34.75h-2.4M308.90,22.45h2.4M554.60,22.45h-2.4M308.90,10.15h4.0M554.60,10.15h-4.0M329.50,256.10v-4.0M329.50,10.15v4.0M358.27,256.10v-2.4M358.27,10.15v2.4M378.69,256.10v-2.4M378.69,10.15v2.4M394.52,256.10v-4.0M394.52,10.15v4.0M407.46,256.10v-2.4M407.46,10.15v2.4M418.40,256.10v-2.4M418.40,10.15v2.4M427.88,256.10v-2.4M427.88,10.15v2.4M436.23,256.10v-2.4M436.23,10.15v2.4M443.71,256.10v-4.0M443.71,10.15v4.0M492.90,256.10v-4.0M492.90,10.15v4.0M521.67,256.10v-2.4M521.67,10.15v2.4M542.09,256.10v-2.4M542.09,10.15v2.4" stroke-width="0.6"/>
<g transform="translate(306.6,262.0) scale(0.94,1)"><text class="tl" x="0" y="0" text-anchor="end">0.0</text></g>
<g transform="translate(306.6,212.8) scale(0.94,1)"><text class="tl" x="0" y="0" text-anchor="end">0.2</text></g>
<g transform="translate(306.6,163.6) scale(0.94,1)"><text class="tl" x="0" y="0" text-anchor="end">0.4</text></g>
<g transform="translate(306.6,114.4) scale(0.94,1)"><text class="tl" x="0" y="0" text-anchor="end">0.6</text></g>
<g transform="translate(306.6,65.2) scale(0.94,1)"><text class="tl" x="0" y="0" text-anchor="end">0.8</text></g>
<g transform="translate(306.6,16.1) scale(0.94,1)"><text class="tl" x="0" y="0" text-anchor="end">1.0</text></g>
<g transform="translate(329.5,273.0) scale(0.94,1)"><text class="tl" x="0" y="0" text-anchor="middle">2</text></g>
<g transform="translate(394.5,273.0) scale(0.94,1)"><text class="tl" x="0" y="0" text-anchor="middle">5</text></g>
<g transform="translate(443.7,273.0) scale(0.94,1)"><text class="tl" x="0" y="0" text-anchor="middle">10</text></g>
<g transform="translate(492.9,273.0) scale(0.94,1)"><text class="tl" x="0" y="0" text-anchor="middle">20</text></g>
<g transform="translate(396.8,294.4) scale(1.22,1)"><text x="0" y="0" font-size="16.8px" font-style="italic">m</text></g>
<g transform="translate(409.4,300.6) scale(1.13,1)"><text x="0" y="0" font-size="15.2px" font-style="italic">V</text></g>
<text x="421.6" y="295.4" font-size="9.6px">0</text>
<g transform="translate(433.4,294.4) scale(0.825,1)"><text x="0" y="0" font-size="16.6px">[TeV]</text></g>
<rect class="ax" x="583.70" y="10.15" width="245.80" height="245.95" stroke-width="0.6"/>
<path class="ax" d="M583.70,256.10h4.0M829.50,256.10h-4.0M583.70,243.80h2.4M829.50,243.80h-2.4M583.70,231.51h2.4M829.50,231.51h-2.4M583.70,219.21h2.4M829.50,219.21h-2.4M583.70,206.91h4.0M829.50,206.91h-4.0M583.70,194.61h2.4M829.50,194.61h-2.4M583.70,182.31h2.4M829.50,182.31h-2.4M583.70,170.02h2.4M829.50,170.02h-2.4M583.70,157.72h4.0M829.50,157.72h-4.0M583.70,145.42h2.4M829.50,145.42h-2.4M583.70,133.12h2.4M829.50,133.12h-2.4M583.70,120.83h2.4M829.50,120.83h-2.4M583.70,108.53h4.0M829.50,108.53h-4.0M583.70,96.23h2.4M829.50,96.23h-2.4M583.70,83.94h2.4M829.50,83.94h-2.4M583.70,71.64h2.4M829.50,71.64h-2.4M583.70,59.34h4.0M829.50,59.34h-4.0M583.70,47.04h2.4M829.50,47.04h-2.4M583.70,34.75h2.4M829.50,34.75h-2.4M583.70,22.45h2.4M829.50,22.45h-2.4M583.70,10.15h4.0M829.50,10.15h-4.0M603.80,256.10v-4.0M603.80,10.15v4.0M632.57,256.10v-2.4M632.57,10.15v2.4M652.99,256.10v-2.4M652.99,10.15v2.4M668.82,256.10v-4.0M668.82,10.15v4.0M681.76,256.10v-2.4M681.76,10.15v2.4M692.70,256.10v-2.4M692.70,10.15v2.4M702.18,256.10v-2.4M702.18,10.15v2.4M710.53,256.10v-2.4M710.53,10.15v2.4M718.01,256.10v-4.0M718.01,10.15v4.0M767.20,256.10v-4.0M767.20,10.15v4.0M795.97,256.10v-2.4M795.97,10.15v2.4M816.39,256.10v-2.4M816.39,10.15v2.4" stroke-width="0.6"/>
<g transform="translate(581.4,262.0) scale(0.94,1)"><text class="tl" x="0" y="0" text-anchor="end">0.0</text></g>
<g transform="translate(581.4,212.8) scale(0.94,1)"><text class="tl" x="0" y="0" text-anchor="end">0.2</text></g>
<g transform="translate(581.4,163.6) scale(0.94,1)"><text class="tl" x="0" y="0" text-anchor="end">0.4</text></g>
<g transform="translate(581.4,114.4) scale(0.94,1)"><text class="tl" x="0" y="0" text-anchor="end">0.6</text></g>
<g transform="translate(581.4,65.2) scale(0.94,1)"><text class="tl" x="0" y="0" text-anchor="end">0.8</text></g>
<g transform="translate(581.4,16.1) scale(0.94,1)"><text class="tl" x="0" y="0" text-anchor="end">1.0</text></g>
<g transform="translate(603.8,273.0) scale(0.94,1)"><text class="tl" x="0" y="0" text-anchor="middle">2</text></g>
<g transform="translate(668.8,273.0) scale(0.94,1)"><text class="tl" x="0" y="0" text-anchor="middle">5</text></g>
<g transform="translate(718.0,273.0) scale(0.94,1)"><text class="tl" x="0" y="0" text-anchor="middle">10</text></g>
<g transform="translate(767.2,273.0) scale(0.94,1)"><text class="tl" x="0" y="0" text-anchor="middle">20</text></g>
<g transform="translate(671.6,294.4) scale(1.22,1)"><text x="0" y="0" font-size="16.8px" font-style="italic">m</text></g>
<g transform="translate(684.2,300.6) scale(1.13,1)"><text x="0" y="0" font-size="15.2px" font-style="italic">V</text></g>
<text x="696.4" y="295.4" font-size="9.6px">0</text>
<g transform="translate(708.2,294.4) scale(0.825,1)"><text x="0" y="0" font-size="16.6px">[TeV]</text></g>
<g transform="translate(8.4,142) rotate(-90)"><text x="0" y="0" font-size="17.2px" font-style="italic">g</text><text x="8.0" y="4.2" font-size="14.6px" font-style="italic">V</text></g>
<text x="56.2" y="39.5" font-size="18.2px" font-weight="bold">B</text>
<path d="M73.9,34.9H84.3" stroke="#000" stroke-width="0.7"/>
<g transform="translate(89.4,39.5) scale(0.92,1)"><text x="0" y="0" font-size="18.2px" font-weight="bold">L</text></g>
<text x="346.6" y="37" font-size="17.7px" font-weight="bold">q</text>
<text y="39.8" font-size="18.2px"><tspan x="609.6" font-weight="bold">U</tspan><tspan x="623.6">(</tspan><tspan x="630.4" font-weight="bold">1</tspan><tspan x="639.6">)</tspan><tspan x="644.2" font-weight="bold" font-size="14.6px" dy="2.9">R</tspan></text>
<g transform="translate(70.3,133.2) rotate(-57.0) scale(1.00)" fill="none" stroke="#ff0000" stroke-linecap="round"><g transform="translate(-6.2,5.2)"><path d="M3.5,-10.3L1.7,-2.3C1.2,-0.2 2.2,0.5 3.2,0.1C4.2,-0.3 4.9,-1.4 5.4,-2.6" stroke-width="1.05"/><path d="M0.5,-7.2H5.9" stroke-width="0.7"/><g transform="translate(6.2,0)"><path d="M3.5,-10.3L1.7,-2.3C1.2,-0.2 2.2,0.5 3.2,0.1C4.2,-0.3 4.9,-1.4 5.4,-2.6" stroke-width="1.05"/><path d="M0.5,-7.2H5.9" stroke-width="0.7"/><path d="M1.6,-12.6H6.6" stroke-width="0.7"/></g></g></g>
<g transform="translate(129.8,156.9) rotate(-77.5) scale(0.790,1)"><text x="0" y="5.3" text-anchor="middle" font-size="16.2px" fill="#c85c0e">HL-LHC</text></g>
<g transform="translate(185.5,83.9) rotate(-90.0) scale(0.810,1)"><text x="0" y="5.3" text-anchor="middle" font-size="16.2px" fill="#c85c0e">HE-LHC</text></g>
<g transform="translate(257.0,182.3) rotate(-71.0) scale(0.810,1)"><text x="0" y="5.3" text-anchor="middle" font-size="16.2px" fill="#c85c0e">FCC-<tspan font-style="italic">hh</tspan></text></g>
<g transform="translate(93.5,234.0) rotate(-20.0) scale(1.00)" fill="none" stroke="#c85c0e" stroke-linecap="round"><g transform="translate(-15.5,6)"><path d="M0.4,-4.2C2.8,-5.5 6.2,-9.8 5.9,-11.6C5.7,-12.9 4.4,-12.5 3.6,-10.6C2.6,-8.0 1.5,-3.4 1.8,-1.3C2.0,0.2 3.4,0.4 5.2,-1.8" stroke-width="0.95"/><path d="M7.0,-10.3h7.0M10.5,-13.8v7.0" stroke-width="0.75"/><g transform="translate(15.5,0)"><path d="M0.4,-4.2C2.8,-5.5 6.2,-9.8 5.9,-11.6C5.7,-12.9 4.4,-12.5 3.6,-10.6C2.6,-8.0 1.5,-3.4 1.8,-1.3C2.0,0.2 3.4,0.4 5.2,-1.8" stroke-width="0.95"/><path d="M7.4,-10.3h7.6" stroke-width="0.75"/></g></g></g>
<g transform="translate(353.4,150.3) rotate(-70.0) scale(1.00)" fill="none" stroke="#ff0000" stroke-linecap="round"><g transform="translate(-6.2,5.2)"><path d="M3.5,-10.3L1.7,-2.3C1.2,-0.2 2.2,0.5 3.2,0.1C4.2,-0.3 4.9,-1.4 5.4,-2.6" stroke-width="1.05"/><path d="M0.5,-7.2H5.9" stroke-width="0.7"/><g transform="translate(6.2,0)"><path d="M3.5,-10.3L1.7,-2.3C1.2,-0.2 2.2,0.5 3.2,0.1C4.2,-0.3 4.9,-1.4 5.4,-2.6" stroke-width="1.05"/><path d="M0.5,-7.2H5.9" stroke-width="0.7"/><path d="M1.6,-12.6H6.6" stroke-width="0.7"/></g></g></g>
<g transform="translate(386.1,150.8) rotate(-73.0) scale(0.90)" fill="none" stroke="#0000ff" stroke-linecap="round"><g transform="translate(-23.8,5.5)"><path d="M1.4,-11L3.0,-0.2L7.8,-10.4" stroke-width="1.15" stroke-linejoin="bevel"/><path d="M7.8,-10.4L9.0,-0.2L14.6,-11" stroke-width="1.15" stroke-linejoin="bevel"/><path d="M-0.2,-11.1H3.4M12.8,-11.1H16.2" stroke-width="0.7"/><path d="M16.6,-9.4h6.8M20,-12.8v6.8" stroke-width="0.75"/><g transform="translate(24.1,0)"><path d="M1.4,-11L3.0,-0.2L7.8,-10.4" stroke-width="1.15" stroke-linejoin="bevel"/><path d="M7.8,-10.4L9.0,-0.2L14.6,-11" stroke-width="1.15" stroke-linejoin="bevel"/><path d="M-0.2,-11.1H3.4M12.8,-11.1H16.2" stroke-width="0.7"/><path d="M17.0,-9.4h6.6" stroke-width="0.75"/></g></g></g>
<g transform="translate(420.6,83.4) rotate(-90.0) scale(0.790,1)"><text x="0" y="5.3" text-anchor="middle" font-size="16.2px" fill="#c85c0e">HL-LHC</text></g>
<g transform="translate(467.1,83.4) rotate(-90.0) scale(0.810,1)"><text x="0" y="5.3" text-anchor="middle" font-size="16.2px" fill="#c85c0e">HE-LHC</text></g>
<g transform="translate(418.9,208.3) rotate(-65.0) scale(1.00)" fill="none" stroke="#c85c0e" stroke-linecap="round"><g transform="translate(-15.5,6)"><path d="M0.4,-4.2C2.8,-5.5 6.2,-9.8 5.9,-11.6C5.7,-12.9 4.4,-12.5 3.6,-10.6C2.6,-8.0 1.5,-3.4 1.8,-1.3C2.0,0.2 3.4,0.4 5.2,-1.8" stroke-width="0.95"/><path d="M7.0,-10.3h7.0M10.5,-13.8v7.0" stroke-width="0.75"/><g transform="translate(15.5,0)"><path d="M0.4,-4.2C2.8,-5.5 6.2,-9.8 5.9,-11.6C5.7,-12.9 4.4,-12.5 3.6,-10.6C2.6,-8.0 1.5,-3.4 1.8,-1.3C2.0,0.2 3.4,0.4 5.2,-1.8" stroke-width="0.95"/><path d="M7.4,-10.3h7.6" stroke-width="0.75"/></g></g></g>
<g transform="translate(533.2,201.6) rotate(-70.0) scale(0.810,1)"><text x="0" y="5.3" text-anchor="middle" font-size="16.2px" fill="#c85c0e">FCC-<tspan font-style="italic">hh</tspan></text></g>
<g transform="translate(629.3,182.5) rotate(-60.0) scale(1.00)" fill="none" stroke="#ff0000" stroke-linecap="round"><g transform="translate(-6.2,5.2)"><path d="M3.5,-10.3L1.7,-2.3C1.2,-0.2 2.2,0.5 3.2,0.1C4.2,-0.3 4.9,-1.4 5.4,-2.6" stroke-width="1.05"/><path d="M0.5,-7.2H5.9" stroke-width="0.7"/><g transform="translate(6.2,0)"><path d="M3.5,-10.3L1.7,-2.3C1.2,-0.2 2.2,0.5 3.2,0.1C4.2,-0.3 4.9,-1.4 5.4,-2.6" stroke-width="1.05"/><path d="M0.5,-7.2H5.9" stroke-width="0.7"/><path d="M1.6,-12.6H6.6" stroke-width="0.7"/></g></g></g>
<g transform="translate(655.7,200.6) rotate(-50.0) scale(0.90)" fill="none" stroke="#0000ff" stroke-linecap="round"><g transform="translate(-23.8,5.5)"><path d="M1.4,-11L3.0,-0.2L7.8,-10.4" stroke-width="1.15" stroke-linejoin="bevel"/><path d="M7.8,-10.4L9.0,-0.2L14.6,-11" stroke-width="1.15" stroke-linejoin="bevel"/><path d="M-0.2,-11.1H3.4M12.8,-11.1H16.2" stroke-width="0.7"/><path d="M16.6,-9.4h6.8M20,-12.8v6.8" stroke-width="0.75"/><g transform="translate(24.1,0)"><path d="M1.4,-11L3.0,-0.2L7.8,-10.4" stroke-width="1.15" stroke-linejoin="bevel"/><path d="M7.8,-10.4L9.0,-0.2L14.6,-11" stroke-width="1.15" stroke-linejoin="bevel"/><path d="M-0.2,-11.1H3.4M12.8,-11.1H16.2" stroke-width="0.7"/><path d="M17.0,-9.4h6.6" stroke-width="0.75"/></g></g></g>
<g transform="translate(687.2,71.3) rotate(-90.0) scale(0.790,1)"><text x="0" y="5.3" text-anchor="middle" font-size="16.2px" fill="#c85c0e">HL-LHC</text></g>
<g transform="translate(705.6,47.0) rotate(-88.0) scale(1.00)" fill="none" stroke="#c85c0e" stroke-linecap="round"><g transform="translate(-15.5,6)"><path d="M0.4,-4.2C2.8,-5.5 6.2,-9.8 5.9,-11.6C5.7,-12.9 4.4,-12.5 3.6,-10.6C2.6,-8.0 1.5,-3.4 1.8,-1.3C2.0,0.2 3.4,0.4 5.2,-1.8" stroke-width="0.95"/><path d="M7.0,-10.3h7.0M10.5,-13.8v7.0" stroke-width="0.75"/><g transform="translate(15.5,0)"><path d="M0.4,-4.2C2.8,-5.5 6.2,-9.8 5.9,-11.6C5.7,-12.9 4.4,-12.5 3.6,-10.6C2.6,-8.0 1.5,-3.4 1.8,-1.3C2.0,0.2 3.4,0.4 5.2,-1.8" stroke-width="0.95"/><path d="M7.4,-10.3h7.6" stroke-width="0.75"/></g></g></g>
<g transform="translate(729.6,108.0) rotate(-84.5) scale(0.810,1)"><text x="0" y="5.3" text-anchor="middle" font-size="16.2px" fill="#c85c0e">HE-LHC</text></g>
<g transform="translate(812.7,132.6) rotate(-86.0) scale(0.810,1)"><text x="0" y="5.3" text-anchor="middle" font-size="16.2px" fill="#c85c0e">FCC-<tspan font-style="italic">hh</tspan></text></g>
</g>
</svg></body></html>
